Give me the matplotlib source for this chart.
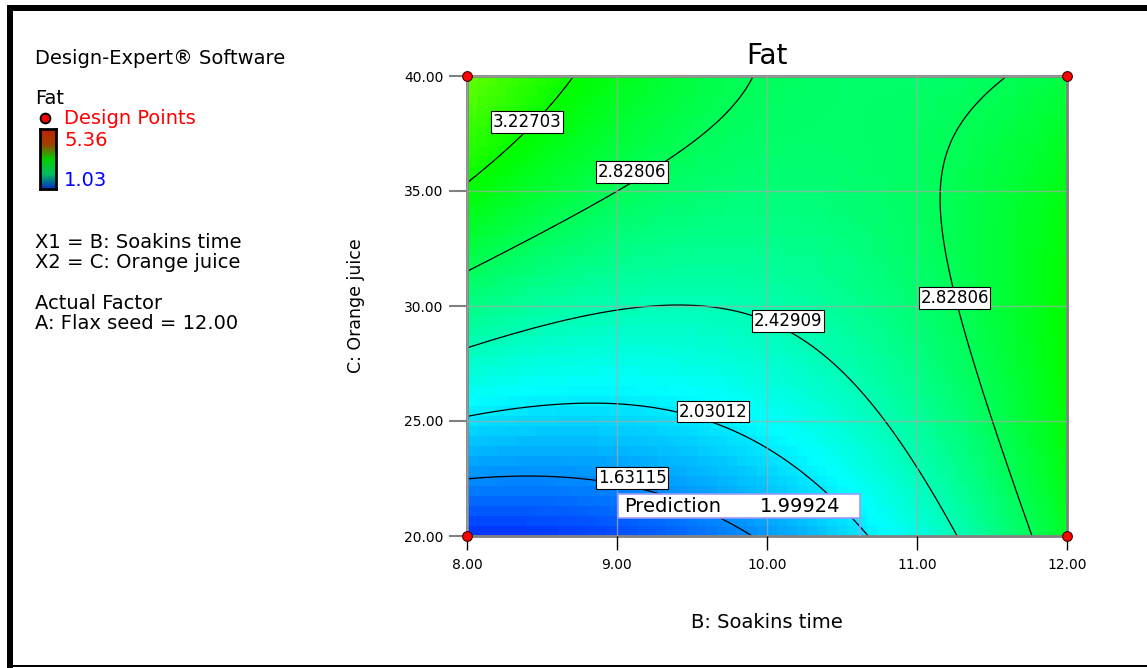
import numpy as np
import matplotlib
matplotlib.use("Agg")
import matplotlib.pyplot as plt
import matplotlib.transforms as mtransforms
from matplotlib.colors import LinearSegmentedColormap
from matplotlib.patches import Rectangle
from matplotlib.lines import Line2D

# quadratic model for Fat in coded units (B, C scaled to -1..1), A: Flax seed held at 12.00
model_terms = ["Intercept", "B", "C", "BC", "B^2", "C^2"]
model_coefs = [2.4669, 0.2751, 0.5684, -0.6229, 0.4618, -0.2242]

b_range = [8.0, 12.0]
c_range = [20.0, 40.0]
fat_low, fat_high = 1.03, 5.36

levels = [1.63115, 2.03012, 2.42909, 2.82806, 3.22703]
# where each contour label box sits (one per labelled line)
label_spots = [(9.1, 22.52), (9.64, 25.4), (10.14, 29.35), (9.1, 35.83), (11.25, 30.35), (8.4, 38.0)]

design_b = [8.0, 8.0, 12.0, 12.0]
design_c = [20.0, 40.0, 20.0, 40.0]

pred_b, pred_c, pred_fat = 10.62, 20.0, 1.99924

b_ticks = [8.0, 9.0, 10.0, 11.0, 12.0]
c_ticks = [20.0, 25.0, 30.0, 35.0, 40.0]


def fat(b, c):
    x = (b - 10.0) / 2.0
    y = (c - 30.0) / 10.0
    k = model_coefs
    return k[0] + k[1] * x + k[2] * y + k[3] * x * y + k[4] * x ** 2 + k[5] * y ** 2


de_cmap = LinearSegmentedColormap.from_list(
    "de", [(0.0, "#0000ff"), (0.25, "#00ffff"), (0.5, "#00ff00"), (0.75, "#ffff00"), (1.0, "#ff0000")])

fig = plt.figure(figsize=(11.47, 6.68), dpi=100)
W, H = 1147, 668
ax = fig.add_axes([467 / W, 1 - 536 / H, 600 / W, 460 / H])

# blocky colour fill
be = np.linspace(b_range[0], b_range[1], 61)
ce = np.linspace(c_range[0], c_range[1], 47)
bm, cm = np.meshgrid((be[:-1] + be[1:]) / 2, (ce[:-1] + ce[1:]) / 2)
ax.pcolormesh(be, ce, fat(bm, cm), cmap=de_cmap, vmin=fat_low, vmax=fat_high, shading="flat", zorder=0)

bf, cf = np.meshgrid(np.linspace(*b_range, 400), np.linspace(*c_range, 400))
cs = ax.contour(bf, cf, fat(bf, cf), levels=levels, colors="black", linewidths=0.9, zorder=2)
labels = ax.clabel(cs, inline=False, fmt="%.5f", fontsize=12, manual=label_spots, zorder=4)
for t, spot in zip(labels, label_spots):
    t.set_rotation(0)
    t.set_position(spot)
    t.set_bbox(dict(boxstyle="square,pad=0.1", fc="white", ec="black", lw=0.8))

ax.set_xlim(*b_range)
ax.set_ylim(*c_range)
ax.set_xticks(b_ticks)
ax.set_yticks(c_ticks)
ax.set_xticklabels([f"{v:.2f}" for v in b_ticks])
ax.set_yticklabels([f"{v:.2f}" for v in c_ticks])
ax.tick_params(axis="x", length=10, width=1, color="black", pad=6, labelsize=10)
ax.tick_params(axis="y", length=13, width=1.5, color="#808080", pad=4, labelsize=10)
ax.grid(True, color="#a8a8a8", lw=1, alpha=0.7, zorder=1)
ax.set_axisbelow(False)
for s in ax.spines.values():
    s.set_color("#808080")
    s.set_linewidth(2)

ax.set_title("Fat", fontsize=20, pad=9)
ax.set_xlabel("B: Soakins time", fontsize=14, labelpad=29)
ax.set_ylabel("C: Orange juice", fontsize=12.5, labelpad=28)

ax.plot(design_b, design_c, "o", ms=7, mfc="red", mec="#400000", mew=0.8, clip_on=False, zorder=5)

# prediction flag, sized in pixels from the predicted point
flag = mtransforms.IdentityTransform() + mtransforms.ScaledTranslation(pred_b, pred_c, ax.transData)
ax.add_patch(Rectangle((-242, 18), 242, 24, transform=flag, fc="white", ec="#9a9aff", lw=1.2, zorder=6))
ax.add_line(Line2D([0, 0], [0, 18], transform=flag, color="#9a9aff", lw=1.2, zorder=6))
ax.text(-236, 30, "Prediction", transform=flag, fontsize=14, va="center", ha="left", zorder=7)
ax.text(-100, 30, f"{pred_fat:.5f}", transform=flag, fontsize=14, va="center", ha="left", zorder=7)

# left-hand legend panel
lx = 35 / W
side = dict(fontsize=14, ha="left", va="center")
fig.text(lx, 1 - 58 / H, "Design-Expert® Software", **side)
fig.text(lx, 1 - 99 / H, "Fat", **side)
fig.text(64 / W, 1 - 119 / H, "Design Points", color="red", **side)
fig.text(64 / W, 1 - 141 / H, f"{fat_high:.2f}", color="red", **side)
fig.text(64 / W, 1 - 181 / H, f"{fat_low:.2f}", color="blue", **side)
fig.text(lx, 1 - 242 / H, "X1 = B: Soakins time", **side)
fig.text(lx, 1 - 263 / H, "X2 = C: Orange juice", **side)
fig.text(lx, 1 - 303 / H, "Actual Factor", **side)
fig.text(lx, 1 - 324 / H, "A: Flax seed = 12.00", **side)
fig.add_artist(Line2D([45 / W], [1 - 118 / H], marker="o", ms=7, mfc="red", mec="black", mew=1.4))

bar_cmap = LinearSegmentedColormap.from_list("bar", ["#0030c0", "#00c060", "#00d000", "#a04000", "#c02000"])
cax = fig.add_axes([40 / W, 1 - 189 / H, 16 / W, 60 / H])
cax.imshow(np.linspace(1, 0, 60)[:, None], cmap=bar_cmap, aspect="auto")
cax.set_xticks([])
cax.set_yticks([])
for s in cax.spines.values():
    s.set_linewidth(2)
    s.set_color("black")

# outer frame
fig.add_artist(Rectangle((7 / W, 1 - 11 / H), 1, 6 / H, transform=fig.transFigure, fc="black", ec="none"))
fig.add_artist(Rectangle((7 / W, 0), 6 / W, 1 - 5 / H, transform=fig.transFigure, fc="black", ec="none"))
fig.add_artist(Rectangle((7 / W, 1 / H), 1, 2 / H, transform=fig.transFigure, fc="black", ec="none"))

fig.savefig("out.png", dpi=100)
